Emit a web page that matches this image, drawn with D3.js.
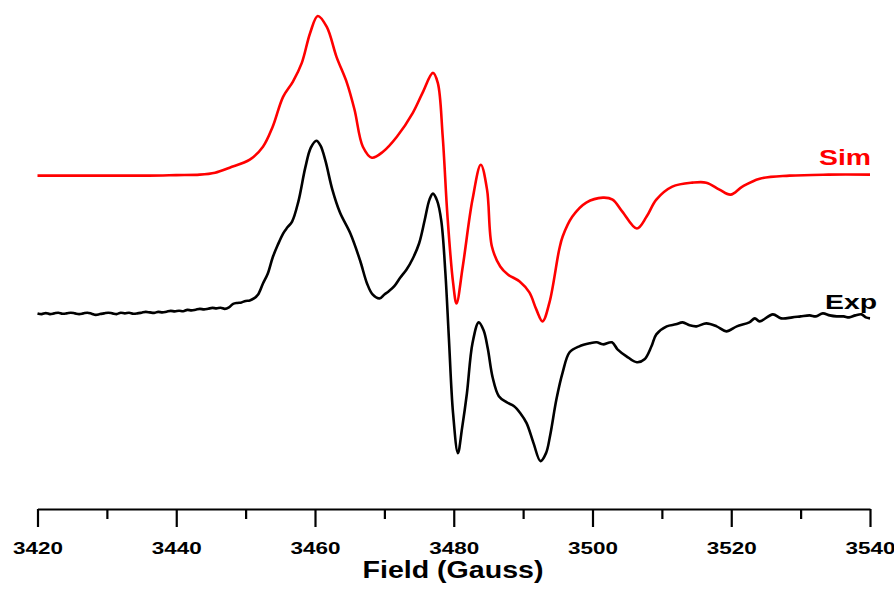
<!DOCTYPE html>
<html>
<head>
<meta charset="utf-8">
<script src="https://cdn.jsdelivr.net/npm/d3@7"></script>
<style>
  body { margin: 0; background: #fff; }
  svg { display: block; }
</style>
</head>
<body>
<div id="chart"></div>
<script>

// simulated spectrum (field in G, intensity in a.u.)
let simField = [3420.0, 3430.0, 3436.0, 3440.0, 3443.4, 3445.6, 3447.7, 3450.6, 3452.5, 3453.9,
    3455.4, 3456.8, 3458.1, 3459.3, 3460.4, 3461.7, 3463.1, 3464.6, 3465.7, 3466.9,
    3468.2, 3469.8, 3471.8, 3474.1, 3475.5, 3477.0, 3477.7, 3478.4, 3479.1, 3479.9,
    3480.4, 3481.3, 3482.7, 3483.9, 3484.8, 3485.5, 3486.7, 3487.8, 3489.5, 3490.9,
    3491.9, 3492.8, 3493.8, 3495.2, 3495.7, 3497.1, 3499.1, 3501.5, 3502.9, 3504.3,
    3506.4, 3507.8, 3509.2, 3511.5, 3514.4, 3516.4, 3518.3, 3519.9, 3521.6, 3524.1,
    3528.4, 3534.0, 3540.0];
let simInt = [0.00, 0.00, 0.00, 0.005, 0.01, 0.03, 0.08, 0.16, 0.29, 0.49,
    0.79, 0.94, 1.13, 1.43, 1.60, 1.49, 1.19, 0.93, 0.66, 0.29,
    0.18, 0.24, 0.39, 0.63, 0.83, 1.03, 0.93, 0.40, -0.41, -1.07,
    -1.28, -0.91, -0.24, 0.11, -0.14, -0.71, -0.91, -0.99, -1.06, -1.17,
    -1.34, -1.46, -1.27, -0.74, -0.61, -0.41, -0.27, -0.22, -0.24, -0.36,
    -0.53, -0.41, -0.24, -0.11, -0.07, -0.07, -0.14, -0.19, -0.11, -0.03,
    0.00, 0.01, 0.01];

// experimental spectrum
let expField = [3420.0, 3420.6, 3421.2, 3421.8, 3422.4, 3423.0, 3423.6, 3424.2, 3424.8, 3425.4,
    3426.0, 3426.6, 3427.2, 3427.8, 3428.4, 3429.0, 3429.6, 3430.2, 3430.8, 3431.4,
    3432.0, 3432.6, 3433.2, 3433.8, 3434.4, 3435.0, 3435.6, 3436.2, 3436.8, 3437.4,
    3438.0, 3438.6, 3439.2, 3439.8, 3440.4, 3441.0, 3441.6, 3442.2, 3442.8, 3443.4,
    3444.0, 3444.6, 3445.2, 3445.8, 3446.4, 3447.0, 3447.6, 3448.2, 3448.8, 3449.4,
    3450.0, 3450.6, 3451.2, 3451.8, 3452.5, 3453.2, 3453.9, 3454.6, 3455.4, 3456.0,
    3456.7, 3457.6, 3458.6, 3459.4, 3460.2, 3460.8, 3461.5, 3462.5, 3463.6, 3465.1,
    3466.5, 3467.5, 3468.3, 3469.3, 3470.0, 3470.6, 3471.4, 3472.3, 3473.2, 3474.1,
    3475.0, 3475.8, 3476.5, 3477.0, 3477.6, 3478.2, 3478.8, 3479.3, 3479.9, 3480.6,
    3481.2, 3481.9, 3482.7, 3483.6, 3484.3, 3484.9, 3485.6, 3486.5, 3487.6, 3488.7,
    3489.6, 3490.5, 3491.5, 3492.5, 3493.3, 3493.9, 3494.8, 3495.7, 3496.7, 3498.1,
    3499.6, 3500.6, 3501.5, 3502.8, 3503.6, 3504.9, 3506.4, 3507.5, 3508.5, 3509.2,
    3510.7, 3512.0, 3513.0, 3514.0, 3515.0, 3516.4, 3517.9, 3519.3, 3520.8, 3522.6,
    3523.4, 3524.1, 3526.0, 3527.2, 3528.8, 3530.0, 3531.3, 3532.2, 3533.2, 3534.2,
    3535.2, 3536.2, 3537.0, 3537.9, 3538.8, 3539.4, 3540.0];
let expInt = [0.00, -0.007, 0.003, -0.007, 0.00, 0.007, -0.003, 0.00, 0.007, 0.00,
    -0.007, 0.00, 0.007, -0.003, -0.015, -0.007, 0.00, 0.007, 0.00, -0.007,
    0.007, 0.00, 0.007, -0.003, 0.00, 0.007, 0.015, 0.01, 0.005, 0.015,
    0.01, 0.017, 0.025, 0.02, 0.027, 0.022, 0.035, 0.03, 0.037, 0.045,
    0.04, 0.047, 0.055, 0.05, 0.057, 0.045, 0.06, 0.095, 0.105, 0.11,
    0.125, 0.13, 0.15, 0.19, 0.30, 0.40, 0.56, 0.68, 0.80, 0.86,
    0.92, 1.12, 1.46, 1.66, 1.73, 1.68, 1.53, 1.24, 1.01, 0.80,
    0.53, 0.30, 0.19, 0.15, 0.19, 0.22, 0.27, 0.36, 0.44, 0.55,
    0.70, 0.93, 1.14, 1.20, 1.13, 0.93, 0.40, -0.25, -1.00, -1.40,
    -1.15, -0.80, -0.30, -0.09, -0.17, -0.35, -0.64, -0.83, -0.89, -0.93,
    -1.00, -1.10, -1.30, -1.48, -1.40, -1.22, -0.86, -0.59, -0.39, -0.33,
    -0.30, -0.29, -0.31, -0.29, -0.36, -0.43, -0.49, -0.46, -0.33, -0.21,
    -0.13, -0.11, -0.09, -0.12, -0.13, -0.10, -0.13, -0.18, -0.13, -0.09,
    -0.05, -0.08, -0.01, -0.05, -0.04, -0.03, -0.02, -0.03, 0.00, -0.02,
    -0.03, -0.03, -0.04, -0.02, -0.01, -0.04, -0.05];

let majorTicks = [3420, 3440, 3460, 3480, 3500, 3520, 3540];
let minorTicks = [3430, 3450, 3470, 3490, 3510, 3530];
let simOffset = 1.38;

let width = 894, height = 592;

let svg = d3.select("#chart")
            .append("svg")
            .attr("width", width)
            .attr("height", height);

let x = d3.scaleLinear()
          .domain([3420, 3540])
          .range([37.5, 870]);

let y = d3.scaleLinear()
          .domain([-1.96, 3.14])
          .range([509, 0]);

let line = d3.line()
             .x(d => x(d[0]))
             .y(d => y(d[1]))
             .curve(d3.curveCatmullRom);

let simData = simField.map((f, i) => [f, simInt[i] + simOffset]);
let expData = expField.map((f, i) => [f, expInt[i]]);

svg.append("path")
   .datum(expData)
   .attr("d", line)
   .attr("fill", "none")
   .attr("stroke", "#000")
   .attr("stroke-width", 2.6)
   .attr("stroke-linejoin", "round");

svg.append("path")
   .datum(simData)
   .attr("d", line)
   .attr("fill", "none")
   .attr("stroke", "#ff0000")
   .attr("stroke-width", 2.6)
   .attr("stroke-linejoin", "round");

// minor ticks first, then the labelled axis on top
svg.append("g")
   .attr("transform", "translate(0,509)")
   .call(d3.axisBottom(x).tickValues(minorTicks).tickSize(10).tickFormat(""))
   .call(g => g.select(".domain").remove())
   .selectAll("line")
   .attr("stroke-width", 2.2);

let xAxis = svg.append("g")
   .attr("transform", "translate(0,509)")
   .call(d3.axisBottom(x).tickValues(majorTicks).tickSize(18).tickSizeOuter(0).tickFormat(d3.format("d")));

xAxis.select(".domain").attr("stroke-width", 2.2);
xAxis.selectAll(".tick line").attr("stroke-width", 2.2);
xAxis.selectAll(".tick text")
     .attr("y", 45)
     .attr("dy", null)
     .attr("fill", "#000")
     .style("font-family", "'Liberation Sans', Arial, sans-serif")
     .style("font-weight", "bold")
     .style("font-size", "17px")
     .attr("textLength", 50)
     .attr("lengthAdjust", "spacingAndGlyphs");

svg.append("text")
   .attr("x", 453)
   .attr("y", 578)
   .attr("text-anchor", "middle")
   .style("font-family", "'Liberation Sans', Arial, sans-serif")
   .style("font-weight", "bold")
   .style("font-size", "23px")
   .attr("textLength", 181)
   .attr("lengthAdjust", "spacingAndGlyphs")
   .text("Field (Gauss)");

// series labels
svg.append("text")
   .attr("x", 871)
   .attr("y", 165)
   .attr("text-anchor", "end")
   .attr("fill", "#ff0000")
   .style("font-family", "'Liberation Sans', Arial, sans-serif")
   .style("font-weight", "bold")
   .style("font-size", "22px")
   .attr("textLength", 52)
   .attr("lengthAdjust", "spacingAndGlyphs")
   .text("Sim");

svg.append("text")
   .attr("x", 877)
   .attr("y", 309)
   .attr("text-anchor", "end")
   .attr("fill", "#000")
   .style("font-family", "'Liberation Sans', Arial, sans-serif")
   .style("font-weight", "bold")
   .style("font-size", "21px")
   .attr("textLength", 52)
   .attr("lengthAdjust", "spacingAndGlyphs")
   .text("Exp");

</script>
</body>
</html>
